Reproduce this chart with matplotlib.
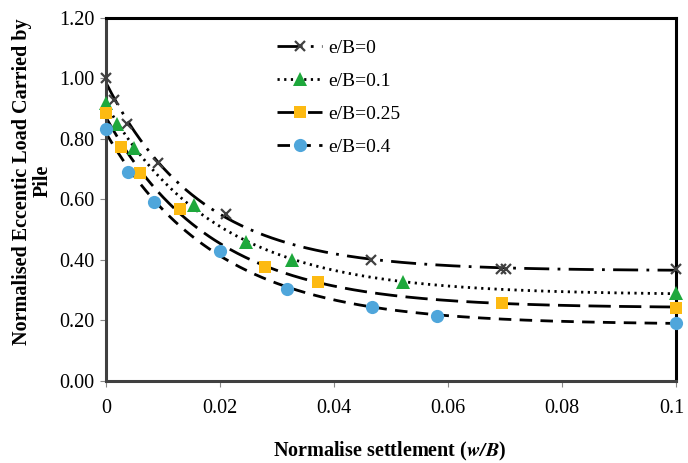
import matplotlib
matplotlib.use("Agg")
import matplotlib.pyplot as plt
import matplotlib.transforms as mtransforms
import numpy as np

plt.rcParams['font.family'] = ['Liberation Serif', 'DejaVu Serif']
plt.rcParams['mathtext.fontset'] = 'stix'

# data (w/B, normalised load)
x0 = [0.0, 0.0014, 0.0037, 0.0092, 0.021, 0.0464, 0.0692, 0.0702, 0.1]
y0 = [1.00, 0.93, 0.85, 0.72, 0.55, 0.40, 0.37, 0.37, 0.37]

x1 = [0.0, 0.0019, 0.0049, 0.0154, 0.0246, 0.0326, 0.052, 0.1]
y1 = [0.92, 0.85, 0.77, 0.58, 0.46, 0.40, 0.325, 0.29]

x2 = [0.0, 0.0026, 0.0059, 0.0129, 0.0279, 0.0372, 0.0695, 0.1]
y2 = [0.886, 0.774, 0.687, 0.567, 0.377, 0.326, 0.258, 0.24]

x3 = [0.0, 0.0038, 0.0084, 0.020, 0.0317, 0.0466, 0.058, 0.1]
y3 = [0.833, 0.69, 0.592, 0.43, 0.304, 0.245, 0.215, 0.19]

labels = ["e/B=0", "e/B=0.1", "e/B=0.25", "e/B=0.4"]
xticks = [0, 0.02, 0.04, 0.06, 0.08, 0.1]
xticklabels = ["0", "0.02", "0.04", "0.06", "0.08", "0.1"]
yticks = [0.0, 0.2, 0.4, 0.6, 0.8, 1.0, 1.2]


def trend(x, y):
    # y = c + a*exp(-b*x), b by grid search, a and c by least squares
    x = np.asarray(x)
    y = np.asarray(y)
    best = None
    for b in np.linspace(5, 300, 600):
        A = np.column_stack([np.exp(-b * x), np.ones_like(x)])
        coef = np.linalg.lstsq(A, y, rcond=None)[0]
        err = np.sum((A @ coef - y) ** 2)
        if best is None or err < best[0]:
            best = (err, b, coef)
    _, b, (a, c) = best
    return lambda t: c + a * np.exp(-b * t)


styles = [
    dict(marker='x', color='#404040', ms=6.5, mew=1.6, dashes=(9, 3, 1, 3)),
    dict(marker='^', color='#1EA83C', ms=10, mew=0, dashes=(0.8, 1.6)),
    dict(marker='s', color='#FDBA12', ms=8, mew=0, dashes=(8, 3)),
    dict(marker='o', color='#4FA6DB', ms=9.5, mew=0, dashes=(4.5, 3)),
]

fig = plt.figure(figsize=(6.88, 4.63), dpi=100)
ax = fig.add_axes([0.154, 0.178, 0.829, 0.783])

xs = np.linspace(0, 0.1, 300)
for (x, y), lab, st in zip([(x0, y0), (x1, y1), (x2, y2), (x3, y3)], labels, styles):
    f = trend(x, y)
    ax.plot(xs, f(xs), color='black', lw=2.0, dashes=st['dashes'], zorder=2)
    ax.plot(x, y, ls='none', marker=st['marker'], color=st['color'],
            ms=st['ms'], mew=st['mew'], zorder=3, clip_on=False)
    # legend proxy
    ax.plot([], [], color='black', lw=2.0, dashes=st['dashes'],
            marker=st['marker'], mfc=st['color'], mec=st['color'],
            ms=st['ms'], mew=st['mew'], label=lab)

ax.set_xlim(0, 0.1)
ax.set_ylim(0, 1.2)
ax.set_xticks(xticks)
ax.set_xticklabels(xticklabels)
ax.set_yticks(yticks)
ax.set_yticklabels(["%.2f" % v for v in yticks])
ax.tick_params(labelsize=14.5, length=4, color='#888888', pad=9)
ax.tick_params(axis='y', pad=4)

# keep the last x label inside the figure
last = ax.get_xticklabels()[-1]
last.set_transform(last.get_transform() +
                   mtransforms.ScaledTranslation(-3 / 72, 0, fig.dpi_scale_trans))

for s in ['left', 'bottom']:
    ax.spines[s].set_color('#404040')
    ax.spines[s].set_linewidth(2.2)
for s in ['top', 'right']:
    ax.spines[s].set_color('black')
    ax.spines[s].set_linewidth(2.2)

ax.set_xlabel(r"Normalise settlement ($\mathbfit{w/B}$)", fontsize=14.5,
              fontweight='bold')
ax.xaxis.set_label_coords(0.497, -0.163)
ax.set_ylabel("Normalised Eccentic Load Carried by\nPile", fontsize=14.5,
              fontweight='bold', linespacing=1.0)
ax.yaxis.set_label_coords(-0.094, 0.55)

leg = ax.legend(loc='upper left', bbox_to_anchor=(0.27, 0.99), frameon=False,
                fontsize=14, handlelength=2.3, labelspacing=0.8,
                handletextpad=0.3)

fig.savefig("out.png", dpi=100)
